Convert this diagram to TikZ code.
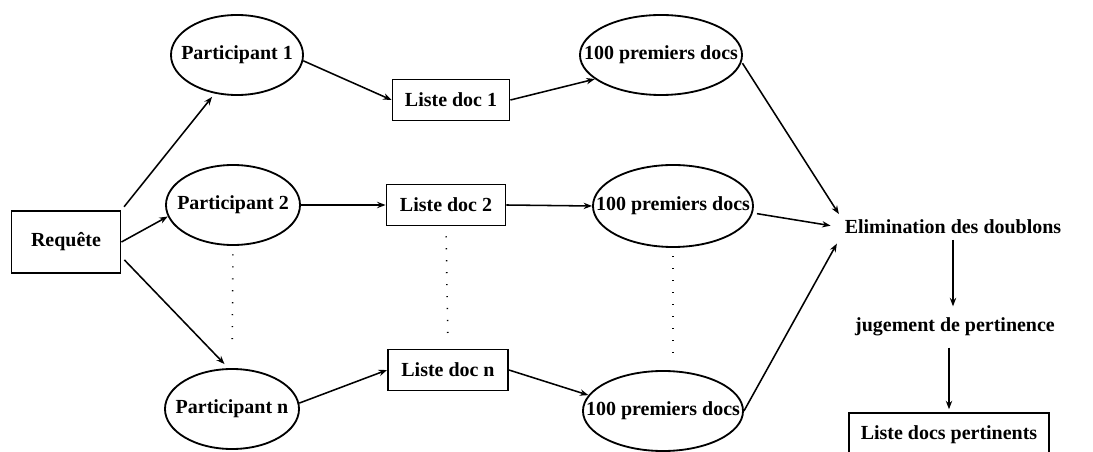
\documentclass[tikz,border=0pt]{standalone}
\usepackage{fontspec}
\setmainfont{Liberation Serif}
\usetikzlibrary{shapes.geometric,arrows.meta}

\begin{document}
\begin{tikzpicture}[x=0.025cm,y=-0.025cm,
    font=\fontsize{14.2}{16}\selectfont\bfseries,
    boite/.style={draw,line width=1.3pt,inner sep=0pt},
    bulle/.style={draw,ellipse,line width=1.3pt,inner sep=0pt,minimum height=2cm},
    fleche/.style={-{Stealth[length=6pt,width=4.5pt]},line width=1.1pt},
    points/.style={line width=1.1pt,dash pattern=on 0.8pt off 7.7pt}]
    \useasboundingbox (0,0) rectangle (1093,452);

    \node[boite,minimum width=2.725cm,minimum height=1.55cm] (req) at (66,242) {Requête};

    \node[bulle,minimum width=3.3cm,label=center:{Participant 1}] (p1) at (237,55) {};
    \node[bulle,minimum width=3.35cm,label=center:{Participant 2}] (p2) at (233,205) {};
    \node[bulle,minimum width=3.35cm,label=center:{Participant n}] (pn) at (232,409) {};

    \node[boite,minimum width=2.925cm,minimum height=1.025cm] (l1) at (451,100) {Liste doc 1};
    \node[boite,minimum width=2.975cm,minimum height=1.025cm] (l2) at (446,205) {Liste doc 2};
    \node[boite,minimum width=3cm,minimum height=1.025cm] (ln) at (448,370) {Liste doc n};

    \node[bulle,minimum width=4.05cm,label=center:{100 premiers docs}] (d1) at (661,55) {};
    \node[bulle,minimum width=4cm,minimum height=2.05cm,label=center:{100 premiers docs}] (d2) at (673,206) {};
    \node[bulle,minimum width=4cm,label=center:{100 premiers docs}] (dn) at (663,411) {};

    \node[inner sep=4pt] (elim) at (953,227) {Elimination des doublons};
    \node[inner sep=4pt] (jug) at (955,327) {jugement de pertinence};
    \node[boite,minimum width=5cm,minimum height=1.1cm] (pert) at (949,435) {Liste docs pertinents};

    \draw[fleche,shorten <=3pt,shorten >=3pt] (req.north east) -- (p1.240);
    \draw[fleche] (req.east) -- (p2.190);
    \draw[fleche,shorten <=3pt,shorten >=4pt] (req.-15) -- (pn.95);

    \draw[fleche] (p1.-5) -- (l1.west);
    \draw[fleche] (p2.east) -- (l2.west);
    \draw[fleche] (pn.5) -- (ln.west);

    \draw[fleche] (l1.east) -- (d1.200);
    \draw[fleche] (l2.east) -- (d2.west);
    \draw[fleche] (ln.east) -- (dn.168);

    \draw[fleche,shorten <=1pt] (d1.-5) -- (elim.north west);
    \draw[fleche,shorten <=3pt,shorten >=6pt] (d2.-5) -- (elim.west);
    \draw[fleche,shorten >=3pt] (dn.east) -- (elim.south west);

    \draw[fleche,shorten >=4pt] (elim.south) -- (elim.south |- jug.north);
    \draw[fleche,shorten <=4pt,shorten >=2pt] (jug.south -| pert.north) -- (pert.north);

    \draw[points,shorten <=6pt,shorten >=16pt] (p2.south) -- (pn.north);
    \draw[points,shorten <=7pt,shorten >=8pt] (l2.south) -- (ln.north);
    \draw[points,shorten <=6pt,shorten >=10pt] (d2.south) -- (d2.south |- dn.north);
\end{tikzpicture}
\end{document}
